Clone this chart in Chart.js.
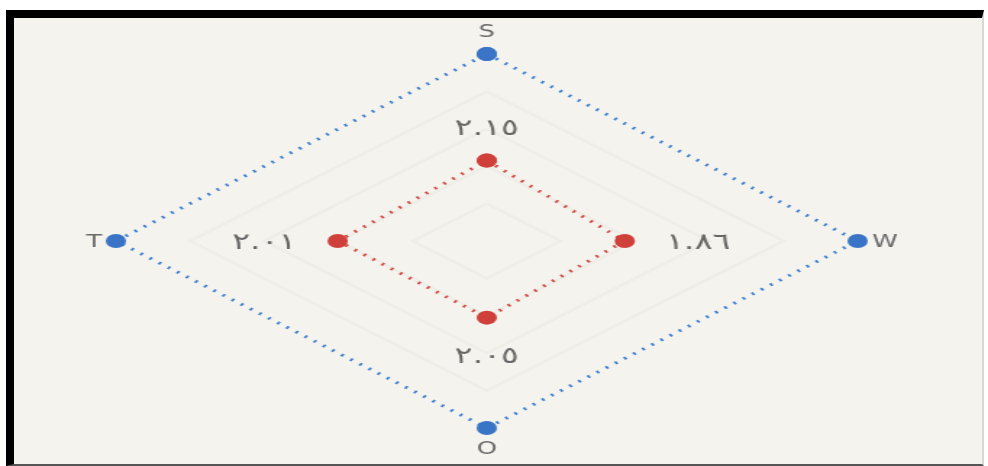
<!DOCTYPE html>
<html lang="ar">
<head>
<meta charset="UTF-8">
<title>Radar</title>
<script src="https://cdn.jsdelivr.net/npm/chart.js"></script>
<style>
    html, body { margin: 0; padding: 0; background: #ffffff; width: 988px; height: 466px; overflow: hidden; }
    .frame {
        position: absolute; left: 6px; top: 10px; width: 968px; height: 446px;
        border-top: 8px solid #000; border-left: 8px solid #000;
        border-bottom: 2px solid #555; border-right: 2px solid #d8d8d4;
        background: #f4f3ee;
    }
    #chart {
        position: absolute; left: 0; top: 0;
        transform-origin: 0 0;
        transform: scaleX(1.4487);
    }
</style>
</head>
<body>
<div class="frame"></div>
<canvas id="chart" width="682" height="466"></canvas>
<script>
    // Оси (по часовой стрелке от верха)
    const axisLabels = ['S', 'W', 'O', 'T'];
    const outerValues = [5, 5, 5, 5];
    const innerValues = [2.15, 1.86, 2.05, 2.01];
    const innerValueLabels = ['٢.١٥', '١.٨٦', '٢.٠٥', '٢.٠١'];
    const gridSteps = [1, 2, 3, 4];
    const scaleMax = 5;

    // направления осей: верх, право, низ, лево
    const dirs = [[0, 1], [1, 0], [0, -1], [-1, 0]];

    const toPoints = (values) => {
        const pts = values.map((v, i) => ({ x: dirs[i][0] * v, y: dirs[i][1] * v }));
        pts.push(pts[0]);
        return pts;
    };

    const gridDatasets = gridSteps.map(step => ({
        data: toPoints(axisLabels.map(() => step)),
        showLine: true,
        borderColor: 'rgba(0, 0, 0, 0.022)',
        borderWidth: 3,
        pointRadius: 0,
        clip: false
    }));

    const labelsPlugin = {
        id: 'labelsPlugin',
        afterDatasetsDraw(chart) {
            const ctx = chart.ctx;
            const xs = chart.scales.x, ys = chart.scales.y;
            ctx.save();
            ctx.direction = 'ltr';
            ctx.textAlign = 'center';
            ctx.textBaseline = 'middle';

            // подписи осей
            ctx.fillStyle = '#6a6a6a';
            ctx.font = '18px "DejaVu Sans", sans-serif';
            const axisOffsets = [[0, -22], [19, 1], [0, 21], [-15, 1]];
            axisLabels.forEach((lbl, i) => {
                const px = xs.getPixelForValue(dirs[i][0] * scaleMax) + axisOffsets[i][0];
                const py = ys.getPixelForValue(dirs[i][1] * scaleMax) + axisOffsets[i][1];
                ctx.fillText(lbl, px, py);
            });

            // значения внутренней серии
            ctx.fillStyle = '#666666';
            ctx.font = '23px "DejaVu Sans", sans-serif';
            const labelRadius = [3.05, 2.85, 3.05, 3.0];
            innerValueLabels.forEach((lbl, i) => {
                const px = xs.getPixelForValue(dirs[i][0] * labelRadius[i]);
                const py = ys.getPixelForValue(dirs[i][1] * labelRadius[i]) + 2;
                ctx.fillText(lbl, px, py);
            });
            ctx.restore();
        }
    };

    new Chart(document.getElementById('chart'), {
        type: 'scatter',
        data: {
            datasets: [
                {
                    label: 'inner',
                    data: toPoints(innerValues),
                    showLine: true,
                    borderColor: '#d24a45',
                    backgroundColor: '#d0403b',
                    borderWidth: 3,
                    borderDash: [1.8, 6],
                    pointRadius: 7,
                    pointBorderWidth: 0,
                    clip: false
                },
                {
                    label: 'outer',
                    data: toPoints(outerValues),
                    showLine: true,
                    borderColor: '#3f7fd0',
                    backgroundColor: '#3a74c6',
                    borderWidth: 3,
                    borderDash: [1.8, 6],
                    pointRadius: 7,
                    pointBorderWidth: 0,
                    clip: false
                },
                ...gridDatasets
            ]
        },
        options: {
            responsive: false,
            animation: false,
            devicePixelRatio: 1,
            layout: { padding: { left: 80, right: 90, top: 54, bottom: 38 } },
            plugins: {
                legend: { display: false },
                tooltip: { enabled: false }
            },
            scales: {
                x: { type: 'linear', min: -scaleMax, max: scaleMax, display: false },
                y: { type: 'linear', min: -scaleMax, max: scaleMax, display: false }
            }
        },
        plugins: [labelsPlugin]
    });
</script>
</body>
</html>
